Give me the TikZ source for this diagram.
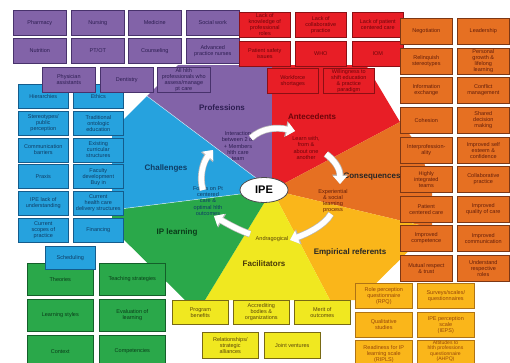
\documentclass[tikz,border=0pt]{standalone}
\usepackage{fontspec}
\setmainfont{Liberation Sans}
\usetikzlibrary{arrows.meta,shapes.geometric}

% wedge / box palette
\definecolor{cPurple}{RGB}{130,99,168}
\definecolor{cPurpleD}{RGB}{72,50,108}
\definecolor{cPurpleT}{RGB}{45,30,82}
\definecolor{cRed}{RGB}{232,30,38}
\definecolor{cRedD}{RGB}{140,15,20}
\definecolor{cRedT}{RGB}{110,5,10}
\definecolor{cOrange}{RGB}{230,112,34}
\definecolor{cOrangeD}{RGB}{125,55,20}
\definecolor{cOrangeT}{RGB}{100,30,10}
\definecolor{cAmber}{RGB}{250,182,26}
\definecolor{cAmberD}{RGB}{175,115,20}
\definecolor{cAmberT}{RGB}{150,70,10}
\definecolor{cYellow}{RGB}{240,232,32}
\definecolor{cYellowD}{RGB}{120,105,20}
\definecolor{cYellowT}{RGB}{90,70,10}
\definecolor{cGreen}{RGB}{42,168,74}
\definecolor{cGreenD}{RGB}{20,95,42}
\definecolor{cGreenT}{RGB}{10,60,25}
\definecolor{cBlue}{RGB}{38,162,222}
\definecolor{cBlueD}{RGB}{20,92,140}
\definecolor{cBlueT}{RGB}{15,60,100}

\tikzset{
  cell/.style={draw, line width=0.6pt, align=center, inner sep=0.5pt,
    anchor=north west, font=\fontsize{5.5}{6.0}\selectfont},
  pcell/.style={cell, fill=cPurple, draw=cPurpleD, text=cPurpleT,
    minimum width=53pt, minimum height=25pt},
  rcell/.style={cell, fill=cRed, draw=cRedD, text=cRedT,
    minimum width=51pt, minimum height=25pt},
  ocell/.style={cell, fill=cOrange, draw=cOrangeD, text=cOrangeT,
    minimum width=52pt, minimum height=26pt},
  bcell/.style={cell, fill=cBlue, draw=cBlueD, text=cBlueT,
    minimum width=50pt, minimum height=24pt},
  gcell/.style={cell, fill=cGreen, draw=cGreenD, text=cGreenT,
    minimum width=66pt, minimum height=32pt},
  ycell/.style={cell, fill=cYellow, draw=cYellowD, text=cYellowT,
    minimum width=56pt, minimum height=24pt},
  acell/.style={cell, fill=cAmber, draw=cAmberD, text=cAmberT,
    minimum width=57pt, minimum height=25pt},
  heading/.style={font=\bfseries\fontsize{8}{9.6}\selectfont},
  note/.style={align=center, inner sep=0pt, font=\fontsize{5.6}{6.2}\selectfont},
  divider/.style={white, line width=0.5pt, opacity=0.7},
  flow/.style={line width=5.5pt, white, -{Triangle[width=13.5pt,length=8pt]},
    preaction={draw=gray!55, line width=6.9pt,
      -{Triangle[width=15.5pt,length=9.4pt]}}}
}

\begin{document}
\begin{tikzpicture}[x=1pt,y=-1pt]
\useasboundingbox (0,0) rectangle (510,362);
\clip (0,0) rectangle (510,362);

% ---- central octagon, one wedge per concept ----
\coordinate (C) at (272,190);
\fill[cPurple] (C) -- (147,96) -- (178,65) -- (272,65) -- cycle;
\fill[cRed]    (C) -- (272,65) -- (366,65) -- (400,122) -- cycle;
\fill[cOrange] (C) -- (400,122) -- (420,148) -- (432,190) -- (432,228) -- cycle;
\fill[cAmber]  (C) -- (432,228) -- (359,300) -- (330,300) -- cycle;
\fill[cYellow] (C) -- (330,300) -- (205,300) -- cycle;
\fill[cGreen]  (C) -- (205,300) -- (185,300) -- (112,228) -- (112,210) -- cycle;
\fill[cBlue]   (C) -- (112,210) -- (112,131) -- (147,96) -- cycle;
\draw[divider] (C) -- (147,96);
\draw[divider] (C) -- (112,210);

% ---- challenges (blue) ----
\node[bcell] (hier)   at (18,84)    {Hierarchies};
\node[bcell] (ethics) at (73,84)    {Ethics};
\node[bcell] (stereo) at (18,110.8) {Stereotypes/\\public\\perception};
\node[bcell] (tradit) at (73,110.8) {Traditional\\ontologic\\education};
\node[bcell] (commun) at (18,137.6) {Communication\\barriers};
\node[bcell] (exist)  at (73,137.6) {Existing\\curricular\\structures};
\node[bcell] (praxis) at (18,164.4) {Praxis};
\node[bcell] (faculty) at (73,164.4) {Faculty\\development\\Buy in};
\node[bcell] (ipelack) at (18,191.2) {IPE lack of\\understanding};
\node[bcell] (current) at (73,191.2) {Current\\health care\\delivery structures};
\node[bcell] (scopes) at (18,218)   {Current\\scopes of\\practice};
\node[bcell] (financ) at (73,218)   {Financing};

% ---- professions (purple) ----
\node[pcell] (pharm)   at (13,10)  {Pharmacy};
\node[pcell] (nurs)    at (71,10)  {Nursing};
\node[pcell] (med)     at (128,10) {Medicine};
\node[pcell] (social)  at (186,10) {Social work};
\node[pcell] (nutr)    at (13,38)  {Nutrition};
\node[pcell] (ptot)    at (71,38)  {PT/OT};
\node[pcell] (couns)   at (128,38) {Counseling};
\node[pcell] (advnurse) at (186,38) {Advanced\\practice nurses};
\node[pcell] (physasst) at (42,67) {Physician\\assistants};
\node[pcell] (dent)    at (100,67) {Dentistry};
\node[pcell] (allhlth) at (157,67) {All hlth\\professionals who\\assess/manage\\pt care};

% ---- antecedents (red) ----
\node[rcell] (lackknow)   at (239,12) {Lack of\\knowledge of\\professional\\roles};
\node[rcell] (lackcollab) at (295,12) {Lack of\\collaborative\\practice};
\node[rcell] (lackpt)     at (352,12) {Lack of patient\\centered care};
\node[rcell] (ptsafety)   at (239,41) {Patient safety\\issues};
\node[rcell] (who)        at (295,41) {WHO};
\node[rcell] (iom)        at (352,41) {IOM};
\node[rcell] (workforce)  at (267,68) {Workforce\\shortages};
\node[rcell] (willing)    at (323,68) {Willingness to\\shift education\\\& practice\\paradigm};

% ---- consequences (orange) ----
\node[ocell] (negot)    at (400,18)  {Negotiation};
\node[ocell] (lead)     at (457,18)  {Leadership};
\node[ocell] (relinq)   at (400,48)  {Relinquish\\stereotypes};
\node[ocell] (personal) at (457,48)  {Personal\\growth \&\\lifelong\\learning};
\node[ocell] (info)     at (400,77)  {Information\\exchange};
\node[ocell] (conflict) at (457,77)  {Conflict\\management};
\node[ocell] (cohes)    at (400,107) {Cohesion};
\node[ocell] (shared)   at (457,107) {Shared\\decision\\making};
\node[ocell] (interp)   at (400,137) {Interprofession-\\ality};
\node[ocell] (selfest)  at (457,137) {Improved self\\esteem \&\\confidence};
\node[ocell] (teams)    at (400,166) {Highly\\integrated\\teams};
\node[ocell] (collab)   at (457,166) {Collaborative\\practice};
\node[ocell] (ptcare)   at (400,196) {Patient\\centered care};
\node[ocell] (quality)  at (457,196) {Improved\\quality of care};
\node[ocell] (compet)   at (400,225) {Improved\\competence};
\node[ocell] (commimp)  at (457,225) {Improved\\communication};
\node[ocell] (mutual)   at (400,255) {Mutual respect\\\& trust};
\node[ocell] (roles)    at (457,255) {Understand\\respective\\roles};

% ---- IP learning (green) ----
\node[gcell] (theories) at (27,263) {Theories};
\node[gcell] (teaching) at (99,263) {Teaching strategies};
\node[gcell] (styles)   at (27,299) {Learning styles};
\node[gcell] (evalu)    at (99,299) {Evaluation of\\learning};
\node[gcell] (context)  at (27,335) {Context};
\node[gcell] (compe)    at (99,335) {Competencies};
\node[bcell, minimum height=23pt] (sched) at (45,246) {Scheduling};

% ---- facilitators (yellow) ----
\node[ycell] (program) at (172,300) {Program\\benefits};
\node[ycell] (accred)  at (233,300) {Accrediting\\bodies \&\\organizations};
\node[ycell] (merit)   at (294,300) {Merit of\\outcomes};
\node[ycell, minimum height=26pt] (relat) at (202,332) {Relationships/\\strategic\\alliances};
\node[ycell, minimum height=26pt] (joint) at (264,332) {Joint ventures};

% ---- empirical referents (amber) ----
\node[acell] (rpq)      at (355,283) {Role perception\\questionnaire\\(RPQ)};
\node[acell] (surveys)  at (417,283) {Surveys/scales/\\questionnaires};
\node[acell] (qualit)   at (355,312) {Qualitative\\studies};
\node[acell] (ieps)     at (417,312) {IPE perception\\scale\\(IEPS)};
\node[acell, minimum height=27pt] (ripls) at (355,340) {Readiness for IP\\learning scale\\(RIPLS)};
\node[acell, minimum height=27pt] (ahpq)  at (417,340) {};
\node[note, anchor=north, text=cAmberT, font=\fontsize{5.1}{5.2}\selectfont]
  (ahpqtext) at (445.5,340.8) {Attitudes to\\hlth professions\\questionnaire\\(AHPQ)};

% ---- wedge headings ----
\node[heading, text=cPurpleT] (hprof) at (222,108) {Professions};
\node[heading, text=cRedT]    (hante) at (312,117) {Antecedents};
\node[heading, text=black!85] (hcons) at (372,177) {Consequences};
\node[heading, text=black!85] (hemp)  at (350,252) {Empirical referents};
\node[heading, text=cYellowT!80!black] (hfac) at (264,264) {Facilitators};
\node[heading, text=cGreenT]  (hipl)  at (177,232) {IP learning};
\node[heading, text=cBlueT]   (hchal) at (166,168) {Challenges};

% ---- inner cycle ----
\node[note, text=cPurpleT] (interaction) at (238,146) {Interaction\\between 2 or\\+ Members\\hlth care\\team};
\node[note, text=cRedT] (learn) at (306,148) {Learn with,\\from \&\\about one\\another};
\node[note, text=cOrangeT] (experiential) at (333,201) {Experiential\\\& social\\learning\\process};
\node[note, text=cYellowT] (andra) at (272,239) {Andragogical};
\node[note, text=cBlueT] (focus) at (208,201) {Focus on Pt\\centered\\care \&\\optimal hlth\\outcomes};

\node[ellipse, draw=gray!60!black, line width=0.8pt, fill=white,
  minimum width=48pt, minimum height=25pt, inner sep=0pt,
  font=\bfseries\fontsize{11}{13}\selectfont] (ipe) at (264,190) {IPE};

\coordinate (f1s) at (251,138);
\coordinate (f1e) at (295,131);
\coordinate (f2s) at (326,154);
\coordinate (f2e) at (340,184);
\coordinate (f3s) at (331,214);
\coordinate (f3e) at (290,240);
\coordinate (f4s) at (250,234);
\coordinate (f4e) at (214,216);
\coordinate (f5s) at (203,190);
\coordinate (f5e) at (213,150);
\draw[flow] (f1s) .. controls (262,128) and (276,127) .. (f1e);
\draw[flow] (f2s) .. controls (334,160) and (340,168) .. (f2e);
\draw[flow] (f3s) .. controls (324,226) and (306,234) .. (f3e);
\draw[flow] (f4s) .. controls (238,230) and (226,223) .. (f4e);
\draw[flow] (f5s) .. controls (199,177) and (203,162) .. (f5e);
\end{tikzpicture}
\end{document}
